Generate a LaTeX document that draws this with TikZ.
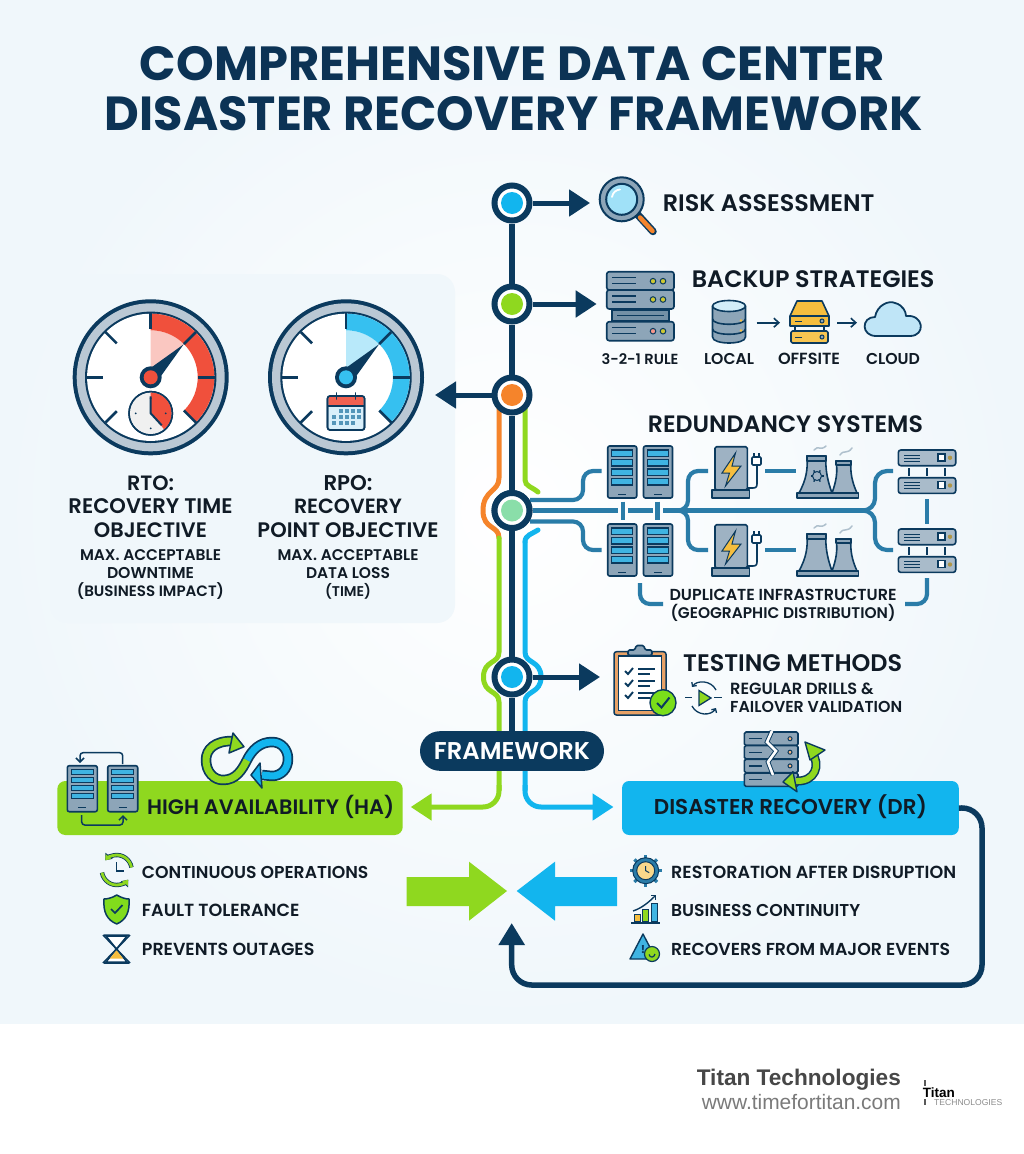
\documentclass[tikz,border=0pt]{standalone}
\usepackage{fontspec}
\usepackage{graphicx}
\setmainfont{Poppins}
\newfontfamily\popsb{Poppins SemiBold}
\newfontfamily\liber{Liberation Sans}
\usetikzlibrary{arrows.meta,calc}
\definecolor{navy}{HTML}{0B3A5E}
\definecolor{titlecol}{HTML}{0C3355}
\definecolor{ink}{HTML}{101B26}
\definecolor{lime}{HTML}{8FD81F}
\definecolor{sky}{HTML}{12B5EE}
\definecolor{orng}{HTML}{F5842B}
\definecolor{teal}{HTML}{2A7CA8}
\definecolor{steel}{HTML}{8DA5B8}
\definecolor{silver}{HTML}{BAC8D4}
\definecolor{iconblue}{HTML}{3FB4E2}
\definecolor{paleblue}{HTML}{BFE5F7}
\definecolor{gred}{HTML}{F0503C}
\definecolor{gold}{HTML}{F6BE3E}
\definecolor{bgedge}{HTML}{F0F7FB}
\definecolor{panelbg}{HTML}{F0F7FB}
\newcommand{\fitw}[2]{\resizebox{#1pt}{!}{#2}}
\tikzset{
  lab/.style={inner sep=0pt,text=ink,font=\popsb\fontsize{20}{24}\selectfont},
  hub/.style={circle,draw=navy,line width=6pt,fill=white,minimum size=35pt,inner sep=0pt},
  dot/.style={circle,minimum size=22pt,inner sep=0pt},
  spine/.style={draw=navy,line width=6pt},
  branch/.style={-{Triangle[length=21pt,width=26pt]},draw=navy,line width=5pt},
  side/.style={line width=5pt,line cap=round},
  redun/.style={draw=teal,line width=4.2pt},
  ic/.style={draw=navy,line width=1.6pt,line join=round},
  thinarrow/.style={-{Straight Barb[length=5pt,width=9pt]},draw=navy,line width=1.6pt},
}
% gauge: #1 x, #2 colour, #3 pale colour
\newcommand{\gaugeface}[3]{
\begin{scope}[shift={(#1,377.3)}]
  \fill[navy] (0,0) circle (78);
  \fill[silver] (0,0) circle (74);
  \fill[navy] (0,0) circle (65.7);
  \fill[white] (0,0) circle (63.6);
  \fill[#3] (0,0) -- (0,-47) arc[start angle=-90,end angle=-45,radius=47] -- cycle;
  \fill[#2] (-90:63.6) arc[start angle=-90,end angle=45,radius=63.6] -- (45:47) arc[start angle=45,end angle=-90,radius=47] -- cycle;
  \foreach \a/\ri in {-90/48,-45/47,0/47,45/47,135/48,180/48,225/48}
    \draw[navy,line width=2.6pt] (\a:64) -- (\a:\ri);
  \fill[navy] (33,-33) -- (4,7.5) -- (-7.5,-4) -- cycle;
  \fill[navy] (0,0) circle (11);
  \fill[#2] (0,0) circle (7);
\end{scope}}
% tower server box: x,y,w,h
\newcommand{\towerbox}[4]{
\begin{scope}[shift={(#1,#2)}]
  \draw[ic,fill=steel,rounded corners=2pt] (0,0) rectangle (#3,#4);
  \foreach \k in {0,1,2,3}
    \draw[navy,line width=1.1pt,fill=iconblue] (4,{4+\k*(#4-14)/4}) rectangle ({#3-4},{4+\k*(#4-14)/4+(#4-14)/4-3});
  \draw[navy,line width=1pt] ({#3/2-4},{#4-4}) -- ({#3/2+4},{#4-4});
\end{scope}}
% charger with bolt and plug, offset y
\newcommand{\charger}[1]{
\begin{scope}[shift={(0,#1)}]
  \draw[navy,line width=1.6pt] (747,488) -- (753,488) .. controls (757,488) and (757,486) .. (757,482) -- (757,463);
  \draw[ic,fill=steel!85!white,rounded corners=1.5pt] (715,446.7) rectangle (747.3,490);
  \draw[ic,fill=steel] (712,490) rectangle (749.3,498);
  \draw[navy,line width=1pt,fill=gold] (735.5,453) -- (722,473) -- (729.5,473) -- (725.5,486) -- (741,466) -- (732,466) -- cycle;
  \draw[ic,fill=white,rounded corners=1pt] (752,457) rectangle (761,465);
  \draw[navy,line width=1.4pt] (754,457) -- (754,452.5) (759,457) -- (759,452.5);
\end{scope}}
% cooling towers, offset y
\newcommand{\cooling}[1]{
\begin{scope}[shift={(0,#1)}]
  \draw[ic,fill=steel!85!white] (799,493) .. controls (806,480) and (808,470) .. (807,456) -- (826,456) .. controls (825,470) and (828,482) .. (832,493) -- cycle;
  \draw[ic,fill=steel] (807,456) rectangle (826,461);
  \draw[ic,fill=steel!85!white] (832,493) .. controls (836,482) and (838,472) .. (836,461) -- (851,461) .. controls (850,472) and (852,482) .. (857,493) -- cycle;
  \draw[ic,fill=steel] (836,461) rectangle (851,465);
  \draw[ic,fill=steel] (796.7,493) rectangle (858.3,498);
  \draw[steel!70!white,line width=1.5pt,line cap=round] (814,450) .. controls (818,445) and (821,451) .. (826,446);
  \draw[steel!70!white,line width=1.5pt,line cap=round] (840,455) .. controls (844,449) and (847,455) .. (852,448);
\end{scope}}
% rack pair
\newcommand{\rackpair}[1]{
\begin{scope}[shift={(0,#1)}]
  \foreach \yy in {450,477.7}{
    \draw[ic,fill=steel!75!white,rounded corners=2.5pt] (898.3,\yy) rectangle (955.7,\yy+15.7);
    \draw[navy,line width=1pt] (904,\yy+5) -- (920,\yy+5) (904,\yy+8) -- (920,\yy+8) (904,\yy+11) -- (920,\yy+11);
    \draw[navy,line width=1.1pt,fill=white] (938,\yy+4) rectangle (945,\yy+11);
    \fill[navy!30!gold] (950,\yy+7.8) circle (2.2);
  }
  \foreach \xx in {909,927,945}
    \draw[navy,line width=1.6pt] (\xx,468) -- (\xx,475.5);
\end{scope}}
\newcommand{\gearicon}[3]{
\begin{scope}[shift={(#1,#2)}]
  \foreach \a in {0,45,...,315}
    \draw[teal,line width=3.2pt] (\a:#3-4) -- (\a:#3);
  \draw[navy,line width=1pt,fill=teal] (0,0) circle (#3-3);
  \draw[navy,line width=1pt,fill=gold!60!white] (0,0) circle (#3-7);
  \draw[navy,line width=1pt] (0,-4.5) -- (0,0) -- (3.5,2);
\end{scope}}
\begin{document}
\begin{tikzpicture}[x=1pt,y=-1pt,line cap=butt]
\useasboundingbox (0,0) rectangle (1024,1154);
% background
\fill[white] (0,0) rectangle (1024,1154);
\shade[inner color=white,outer color=bgedge] (0,0) rectangle (1024,1023);
% title
\node[lab,text=titlecol,font=\bfseries\fontsize{40}{48}\selectfont] (title1) at (512.5,63.5) {\fitw{745}{COMPREHENSIVE DATA CENTER}};
\node[lab,text=titlecol,font=\bfseries\fontsize{40}{48}\selectfont] (title2) at (514,113.5) {\fitw{818}{DISASTER RECOVERY FRAMEWORK}};
% gauge panel
\fill[panelbg,rounded corners=18pt] (50,274) rectangle (455,623);
\node[coordinate] (panelR) at (435,395) {};
\gaugeface{150.7}{gred}{gred!32!white}
\gaugeface{346}{sky!85!white}{sky!30!white}
% clock in gauge 1
\begin{scope}[shift={(150.7,413.3)}]
  \draw[navy,line width=1.5pt,fill=gray!12] (0,0) circle (21.7);
  \fill[gred] (0,0) -- (0,-20.9) arc[start angle=-90,end angle=50,radius=20.9] -- cycle;
  \draw[navy,line width=1.5pt] (0,0) circle (21.7);
  \draw[navy,line width=2pt] (0,-17) -- (0,0) -- (11,12);
  \foreach \a in {0,90,180,270} \fill[navy] (\a:15) circle (1);
\end{scope}
% calendar in gauge 2
\begin{scope}[shift={(327.5,396)}]
  \draw[ic,fill=paleblue!60!white,rounded corners=2.5pt] (0,0) rectangle (37,34);
  \fill[gred!90!white,rounded corners=2pt] (0.8,0.8) rectangle (36.2,10);
  \draw[ic,rounded corners=2.5pt] (0,0) rectangle (37,34);
  \draw[navy,line width=1.6pt] (0,10) -- (37,10);
  \draw[navy,line width=1.8pt,line cap=round] (9,-3) -- (9,3) (28,-3) -- (28,3);
  \foreach \r/\cs in {15/{13,19,25,31},21/{6,13,19,25,31},27/{6,13,19,25}}
    \foreach \c in \cs \fill[teal!80!white] (\c-2,\r-2) rectangle (\c+2,\r+2);
\end{scope}
% gauge texts
\node[lab] (rto1) at (150.5,483) {\fitw{47}{RTO:}};
\node[lab] (rto2) at (150.5,506) {\fitw{164}{RECOVERY TIME}};
\node[lab] (rto3) at (150.5,530) {\fitw{113}{OBJECTIVE}};
\node[lab] (rto4) at (150.5,555) {\fitw{141}{MAX. ACCEPTABLE}};
\node[lab] (rto5) at (150.5,573) {\fitw{87}{DOWNTIME}};
\node[lab] (rto6) at (150.5,591) {\fitw{147}{(BUSINESS IMPACT)}};
\node[lab] (rpo1) at (348,483) {\fitw{49}{RPO:}};
\node[lab] (rpo2) at (348,506) {\fitw{108}{RECOVERY}};
\node[lab] (rpo3) at (348,530) {\fitw{181}{POINT OBJECTIVE}};
\node[lab] (rpo4) at (348,555) {\fitw{141}{MAX. ACCEPTABLE}};
\node[lab] (rpo5) at (348,573) {\fitw{84}{DATA LOSS}};
\node[lab] (rpo6) at (348,591) {\fitw{46}{(TIME)}};
% named points
\node[coordinate] (t1) at (590,203) {};
\node[coordinate] (t2) at (596.7,304) {};
\node[coordinate] (t5) at (600,677) {};
\node[coordinate] (haTip) at (410.7,807) {};
\node[coordinate] (drTip) at (613.5,807) {};
% side rails
\draw[side,draw=orng] (499,408) -- (499,478) .. controls (499,492) and (483,490) .. (483,510.5) .. controls (483,530) and (499,525) .. (499,538);
\draw[side,draw=lime] (525,408) -- (525,480) .. controls (525,486) and (532,487) .. (538,492);
\draw[side,draw=sky] (538,530) .. controls (532,534) and (525,535) .. (525,542);
\draw[side,draw=lime] (499,538) -- (499,652) .. controls (499,664) and (483.5,660) .. (483.5,677) .. controls (483.5,694) and (499,690) .. (499,702) -- (499,790);
\draw[side,draw=sky] (525,542) -- (525,652) .. controls (525,664) and (541,660) .. (541,677) .. controls (541,694) and (525,690) .. (525,702) -- (525,790);
\draw[side,draw=lime,-{Triangle[length=21pt,width=26pt]},line cap=butt,rounded corners=16pt] (499,785) -- (499,807) -- (haTip);
\draw[side,draw=sky,-{Triangle[length=21pt,width=26pt]},line cap=butt,rounded corners=16pt] (525,785) -- (525,807) -- (drTip);
% framework
\node[fill=navy,rounded corners=19.8pt,minimum width=184pt,minimum height=39.6pt,inner sep=0pt,text=white,font=\popsb\fontsize{20}{24}\selectfont] (fw) at (512,751) {\fitw{156}{FRAMEWORK}};
% spine + hubs
\node[hub] (s1) at (512,203) {};
\node[hub] (s2) at (512,304) {};
\node[hub] (s3) at (512,395) {};
\node[hub] (s4) at (512,510.5) {};
\node[hub] (s5) at (512,677) {};
\draw[spine] (s1) -- (s2);
\draw[spine] (s2) -- (s3);
\draw[spine] (s3) -- (s4);
\draw[spine] (s4) -- (s5);
\draw[spine] (s5) -- (fw);
\draw[branch] (s1) -- (t1);
\draw[branch] (s2) -- (t2);
\draw[branch] (s3) -- (panelR);
\draw[branch] (s5) -- (t5);
% redundancy lines
\node[coordinate] (m1) at (617.7,510.5) {};
\node[coordinate] (m2) at (628,510.5) {};
\node[coordinate] (m3) at (652.7,510.5) {};
\node[coordinate] (m4) at (663,510.5) {};
\node[coordinate] (m5) at (868,510.5) {};
\node[coordinate] (up1) at (601.7,471) {};
\node[coordinate] (lo1) at (601.7,550) {};
\draw[redun] (s4) -- (m1);
\draw[redun] (m2) -- (m3);
\draw[redun] (m4) -- (m5);
\draw[redun,rounded corners=10pt] (530,500) -- (583,500) -- (583,471) -- (up1);
\draw[redun,rounded corners=10pt] (530,521.5) -- (583,521.5) -- (583,550) -- (lo1);
\draw[redun,rounded corners=10pt] (674,510.5) -- (688,510.5) -- (688,471) -- (708,471);
\draw[redun,rounded corners=10pt] (674,510.5) -- (688,510.5) -- (688,550) -- (708,550);
\draw[redun] (765,471) -- (796,471);
\draw[redun] (765,550) -- (796,550);
\draw[redun,rounded corners=12pt] (862,510.5) -- (875,510.5) -- (875,471) -- (893,471);
\draw[redun,rounded corners=12pt] (862,510.5) -- (875,510.5) -- (875,550) -- (893,550);
\draw[redun] (622.7,501.5) -- (622.7,519.5);
\draw[redun] (657.5,501.5) -- (657.5,519.5);
\draw[redun] (927,499) -- (927,524);
\draw[redun,rounded corners=10pt] (640,583) -- (640,604) -- (663,604);
\draw[redun,rounded corners=10pt] (905,604) -- (927,604) -- (927,578);
% hub dots
\draw[navy,line width=6pt,fill=white] (s4) circle (17.5);
\node[dot,fill=sky] (d1) at (s1) {};
\node[dot,fill=lime] (d2) at (s2) {};
\node[dot,fill=orng] (d3) at (s3) {};
\node[dot,fill=teal!50!green!50!white] (d4) at (s4) {};
\node[dot,fill=sky] (d5) at (s5) {};
% risk assessment
\node[lab,anchor=west] (risk) at (662.7,203) {\fitw{211.5}{RISK ASSESSMENT}};
\draw[navy,line width=7.5pt,line cap=round] (638,215) -- (653,231.5);
\draw[orng,line width=4.5pt,line cap=round] (640,217.5) -- (652.5,231);
\draw[navy,line width=2pt,fill=steel] (621.7,199.3) circle (22);
\draw[navy,line width=2pt,fill=sky!40!white] (621.7,199.3) circle (15.5);
\draw[white,line width=1.8pt,line cap=round] (612,197) .. controls (613,192) and (616,190) .. (620,189.5);
% backup
\node[lab,anchor=west] (backup) at (691.7,279) {\fitw{242.5}{BACKUP STRATEGIES}};
\foreach \a/\b/\cc in {271.7/290/gold!60!lime,290/309/gold!60!lime,321.7/340.7/gred!60!white}{
  \draw[ic,fill=steel,rounded corners=2.5pt] (606.7,\a) rectangle (674,\b);
  \draw[navy,line width=1.4pt] (612,\a+6) -- (636,\a+6) (612,\a+12) -- (636,\a+12);
  \draw[navy,line width=1pt,fill=\cc] (653,\a+9.5) circle (2.8);
  \draw[navy,line width=1pt,fill=gold!60!lime] (663,\a+9.5) circle (2.8);
}
\draw[ic,fill=steel!80!navy] (612,310) rectangle (669,321);
\draw[navy,line width=1.6pt] (617,315.5) -- (664,315.5);
\node[lab,font=\popsb\fontsize{14}{17}\selectfont] (rule) at (640,359) {\fitw{77}{3-2-1 RULE}};
% db
\draw[ic,fill=steel] (712.5,306) -- (712.5,337) .. controls (712.5,345) and (745.5,345) .. (745.5,337) -- (745.5,306) -- cycle;
\draw[ic] (712.5,319) .. controls (712.5,326) and (745.5,326) .. (745.5,319);
\draw[ic] (712.5,329) .. controls (712.5,336) and (745.5,336) .. (745.5,329);
\draw[ic,fill=paleblue!70!white] (729,306) ellipse [x radius=16.5,y radius=5.5];
\fill[gold] (741,320.5) circle (1.3) (741,330.5) circle (1.3);
\node[lab,font=\popsb\fontsize{14}{17}\selectfont] (local) at (729,359) {\fitw{50}{LOCAL}};
\node[coordinate] (a1s) at (756.7,322.7) {};
\node[coordinate] (a1e) at (780,322.7) {};
\node[coordinate] (a2s) at (837,322.7) {};
\node[coordinate] (a2e) at (857,322.7) {};
\draw[thinarrow] (a1s) -- (a1e);
\draw[thinarrow] (a2s) -- (a2e);
% drive
\draw[ic,fill=gold] (797,301) -- (822,301) -- (829,316) -- (829,326) -- (790,326) -- (790,316) -- cycle;
\draw[ic] (790,316) -- (829,316);
\draw[ic,fill=gold!90!white,rounded corners=1.5pt] (791,331) rectangle (828,343);
\draw[ic] (795,326) -- (795,331) (824,326) -- (824,331);
\draw[navy,line width=1pt] (795,321) -- (802,321) (795,337) -- (802,337);
\draw[navy,line width=1pt,fill=steel] (822,321) circle (2) (822,337) circle (2);
\node[lab,font=\popsb\fontsize{14}{17}\selectfont] (offsite) at (809,359) {\fitw{62}{OFFSITE}};
% cloud
\draw[navy,line width=1.8pt,fill=paleblue,line join=round] (876,336) .. controls (861,336) and (861,317) .. (875,317) .. controls (877,305) and (889,300) .. (895,303) .. controls (903,305) and (906,312) .. (906,316) .. controls (924,314) and (926,336) .. (910,336) -- cycle;
\node[lab,font=\popsb\fontsize{14}{17}\selectfont] (cloud) at (893,359) {\fitw{54}{CLOUD}};
% redundancy
\node[lab,anchor=west] (red) at (647.7,424) {\fitw{275}{REDUNDANCY SYSTEMS}};
\towerbox{607.7}{446}{29}{52}
\towerbox{643.5}{446}{29}{52}
\towerbox{607.7}{524}{29}{52}
\towerbox{643.5}{524}{29}{52}
\charger{0}
\charger{78}
\cooling{0}
\cooling{78}
\draw[navy,line width=1pt] (817,476) circle (4.5);
\foreach \a in {0,60,...,300} \draw[navy,line width=1.4pt] (817,476) ++(\a:4.5) -- ++(\a:2);
\rackpair{0}
\rackpair{79}
\node[lab,font=\popsb\fontsize{14}{17}\selectfont] (dup1) at (783,595) {\fitw{227}{DUPLICATE INFRASTRUCTURE}};
\node[lab,font=\popsb\fontsize{14}{17}\selectfont] (dup2) at (783,613) {\fitw{225}{(GEOGRAPHIC DISTRIBUTION)}};
% testing
\node[lab,anchor=west] (test) at (683,663) {\fitw{219}{TESTING METHODS}};
\node[lab,anchor=west,font=\popsb\fontsize{14}{17}\selectfont] (drill1) at (730,689) {\fitw{143.5}{REGULAR DRILLS \&}};
\node[lab,anchor=west,font=\popsb\fontsize{14}{17}\selectfont] (drill2) at (730,707) {\fitw{172}{FAILOVER VALIDATION}};
\draw[navy,line width=1.5pt,fill=orng!60!brown!75!white,rounded corners=2.5pt] (614,651.7) rectangle (666,715);
\fill[white] (618.5,656) rectangle (661.5,710.5);
\draw[navy,line width=1.2pt] (618.5,656) rectangle (661.5,710.5);
\draw[ic,fill=steel,rounded corners=1.5pt] (628,650) -- (628,655.5) -- (652,655.5) -- (652,650) -- (645,650) -- (644,645.5) -- (636,645.5) -- (635,650) -- cycle;
\foreach \yy in {672,684,696}{
  \draw[navy,line width=1.9pt] (625,\yy-1) -- (628,\yy+2) -- (633,\yy-4);
  \draw[navy,line width=1.5pt] (638,\yy-3) -- (655,\yy-3) (638,\yy+2) -- (650,\yy+2);
}
\draw[navy,line width=1.4pt,fill=lime!85!green] (663,702.7) circle (13);
\draw[navy,line width=2pt] (657,703) -- (661.5,707.5) -- (669.5,697.5);
% drill icon
\draw[navy,line width=1.3pt,fill=lime] (699,690.5) -- (711,698) -- (699,705.5) -- cycle;
\draw[navy,line width=1.3pt] (685,697.7) -- (692,697.7) (714,697.7) -- (722,697.7);
\draw[navy,line width=1.3pt,-{Straight Barb[length=3pt,width=6pt]}] (716,690) .. controls (711,680) and (697,680) .. (692,687);
\draw[navy,line width=1.3pt,-{Straight Barb[length=3pt,width=6pt]}] (692,706) .. controls (697,716) and (711,716) .. (716,708);
% HA
\node[fill=lime,rounded corners=8pt,minimum width=345.4pt,minimum height=54pt,inner sep=0pt] (ha) at (230,808) {};
\node[lab,anchor=west] (hat) at (147,807) {\fitw{247}{HIGH AVAILABILITY (HA)}};
\towerbox{67.3}{765.7}{30}{46}
\towerbox{107.7}{765.7}{30}{46}
\draw[navy,line width=1.5pt,-{Straight Barb[length=4pt,width=8pt]},rounded corners=3pt] (122.7,764) -- (122.7,752.7) -- (80,752.7) -- (80,763);
\draw[navy,line width=1.5pt,-{Straight Barb[length=4pt,width=8pt]},rounded corners=3pt] (81.7,815) -- (81.7,825) -- (123,825) -- (123,815);
% infinity
\draw[line width=10.5pt,draw=navy,line join=round] (232,741) .. controls (215,741) and (206,749) .. (206,760) .. controls (206,772) and (214,780) .. (223,780) .. controls (236,780) and (242,770) .. (247,760) .. controls (252,750) and (260,742) .. (272,742) .. controls (282,742) and (288,750) .. (288,759) .. controls (288,769) and (281,776) .. (272,776) -- (262,775);
\draw[line width=7pt,draw=lime,line join=round] (232,741) .. controls (215,741) and (206,749) .. (206,760) .. controls (206,772) and (214,780) .. (223,780) .. controls (236,780) and (242,770) .. (247,760);
\draw[line width=7pt,draw=sky,line join=round] (247,760) .. controls (252,750) and (260,742) .. (272,742) .. controls (282,742) and (288,750) .. (288,759) .. controls (288,769) and (281,776) .. (272,776) -- (262,775);
\draw[navy,fill=lime,line width=1.5pt,line join=round] (244,746.7) -- (233,733) -- (229,753) -- cycle;
\draw[navy,fill=sky,line width=1.5pt,line join=round] (251,775) -- (260,763) -- (262,788) -- cycle;
% DR
\node[fill=sky,rounded corners=7pt,minimum width=336.7pt,minimum height=54pt,inner sep=0pt] (dr) at (790.4,808) {};
\node[lab,anchor=west] (drt) at (653.7,807) {\fitw{273}{DISASTER RECOVERY (DR)}};
\foreach \yy in {732,745.5,759.2,773}{
  \draw[ic,fill=steel,rounded corners=1.5pt] (744.4,\yy) rectangle (798,\yy+13.4);
  \draw[navy,line width=1.3pt] (749,\yy+6.7) -- (762,\yy+6.7);
  \draw[navy,line width=1pt,fill=orng!60!white] (790,\yy+6.7) circle (2);
}
\draw[navy,line width=4.5pt,line join=miter] (772,731) -- (767,742) -- (776,751) -- (768,762) -- (773,775);
\draw[white,line width=2.6pt,line join=miter] (772,731) -- (767,742) -- (776,751) -- (768,762) -- (773,775);
\draw[navy,line width=9pt] (812,753) .. controls (821,765) and (815,782) .. (796,781);
\draw[lime,line width=6pt] (812,753) .. controls (821,765) and (815,782) .. (796,781);
\draw[navy,fill=lime,line width=1.4pt,line join=round] (805,742) -- (825,750) -- (810,760) -- cycle;
\draw[navy,fill=lime,line width=1.4pt,line join=round] (783,782) -- (793,771.7) -- (797,791.7) -- cycle;
% loop connector
\node[coordinate] (loopTip) at (511.7,923) {};
\draw[navy,line width=5.5pt,rounded corners=20pt,-{Triangle[length=22pt,width=25pt]}] (dr.east) -- (982,807.9) -- (982,985) -- (511.7,985) -- (loopTip);
% big arrows
\fill[lime] (406.5,877) -- (469,877) -- (469,861.7) -- (507,891) -- (469,920.7) -- (469,906) -- (406.5,906) -- cycle;
\fill[sky] (617,877) -- (555,877) -- (555,861.7) -- (516.7,891) -- (555,920.7) -- (555,906) -- (617,906) -- cycle;
% bullets left
\node[lab,anchor=west] (b1) at (141.7,872) {\fitw{226.5}{CONTINUOUS OPERATIONS}};
\node[lab,anchor=west] (b2) at (141.7,910) {\fitw{157.5}{FAULT TOLERANCE}};
\node[lab,anchor=west] (b3) at (141.7,949) {\fitw{172.5}{PREVENTS OUTAGES}};
\draw[navy,line width=4.4pt,-{Triangle[length=6pt,width=9pt]}] (102,872.6) arc[start angle=170,end angle=40,radius=15];
\draw[navy,line width=4.4pt,-{Triangle[length=6pt,width=9pt]}] (131.5,867.4) arc[start angle=-10,end angle=-140,radius=15];
\draw[lime,line width=2.8pt,-{Triangle[length=5pt,width=7pt]}] (102,872.6) arc[start angle=170,end angle=40,radius=15];
\draw[lime,line width=2.8pt,-{Triangle[length=5pt,width=7pt]}] (131.5,867.4) arc[start angle=-10,end angle=-140,radius=15];
\draw[navy,line width=1.5pt] (116.7,862) -- (116.7,871) -- (124,871);
\draw[navy,line width=1.5pt,fill=lime!90!green,line join=round] (116.7,895) .. controls (122,898) and (126,899) .. (129,899) .. controls (130,912) and (126,920) .. (116.7,924) .. controls (107,920) and (103,912) .. (104,899) .. controls (107,899) and (112,898) .. (116.7,895) -- cycle;
\draw[navy,line width=1.7pt] (111,909) -- (115,913) -- (122.5,905);
\draw[navy,line width=1.5pt,fill=white] (106,936) -- (127,936) -- (106,962) -- (127,962) -- cycle;
\fill[gold] (110,958.5) -- (123,958.5) -- (116.5,950) -- cycle;
\draw[navy,line width=1.5pt] (103,935) -- (130,963) (130,935) -- (103,963) (104,935) -- (129,935) (104,963) -- (129,963);
% bullets right
\node[lab,anchor=west] (c1) at (671,872) {\fitw{285}{RESTORATION AFTER DISRUPTION}};
\node[lab,anchor=west] (c2) at (671,910) {\fitw{189}{BUSINESS CONTINUITY}};
\node[lab,anchor=west] (c3) at (671,949) {\fitw{279}{RECOVERS FROM MAJOR EVENTS}};
\gearicon{645.7}{870.7}{16}
\draw[navy,line width=1.5pt] (631,923) -- (660,923);
\draw[navy,line width=1pt,fill=gold] (634,914) rectangle (640,921.5);
\draw[navy,line width=1pt,fill=lime] (642.5,909) rectangle (648.5,921.5);
\draw[navy,line width=1pt,fill=iconblue] (651,903) rectangle (657,921.5);
\draw[navy,line width=1.4pt,-{Straight Barb[length=3pt,width=6pt]}] (633,911) .. controls (642,908) and (649,902) .. (656,895);
\draw[navy,line width=1.4pt,fill=iconblue,line join=round] (643,934) -- (630,959) -- (656,959) -- cycle;
\node[inner sep=0pt,text=navy,font=\bfseries\fontsize{11}{12}\selectfont] (warn) at (643,950) {!};
\draw[navy,line width=1.2pt,fill=lime] (652,954) circle (7.5);
\draw[navy,line width=1.2pt] (649,954.5) .. controls (650,958) and (654,958) .. (655,954);
% footer
\node[inner sep=0pt,text=black!72,anchor=east,font=\liber\bfseries\fontsize{20}{24}\selectfont] (tt) at (901,1080) {\fitw{204}{Titan Technologies}};
\node[inner sep=0pt,text=black!52,anchor=east,font=\liber\fontsize{18}{22}\selectfont] (tw) at (901,1102) {\fitw{199}{www.timefortitan.com}};
\node[inner sep=0pt,text=black,anchor=west,font=\liber\bfseries\fontsize{13}{15}\selectfont] (lg1) at (922.7,1092.2) {\fitw{32}{Titan}};
\node[inner sep=0pt,text=black!45,anchor=west,font=\liber\fontsize{9}{11}\selectfont] (lg2) at (934,1102.4) {\fitw{68}{TECHNOLOGIES}};
\fill[black!65] (923.5,1080) rectangle (926,1086);
\fill[black!65] (923.5,1099) rectangle (926,1105);
\end{tikzpicture}
\end{document}
